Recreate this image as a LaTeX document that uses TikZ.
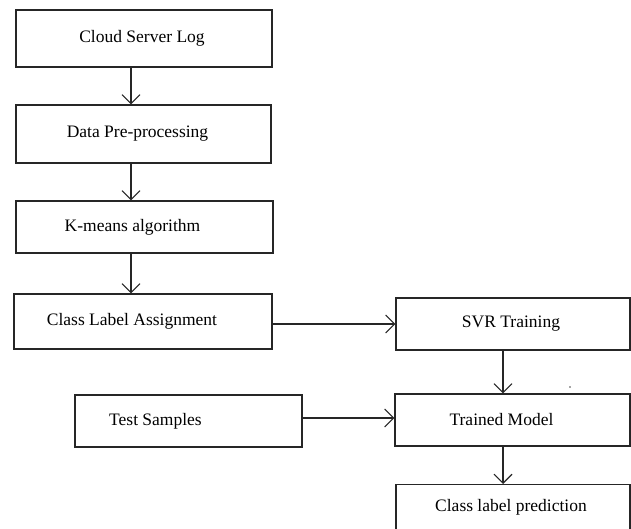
\documentclass[tikz,border=0pt]{standalone}
\usepackage{fontspec}
\setmainfont{Liberation Serif}
\usetikzlibrary{arrows.meta}
\begin{document}
\begin{tikzpicture}[x=1pt,y=-1pt,
  box/.style={draw=black!85, line width=1.1pt, rectangle, inner sep=0pt},
  txt/.style={font=\fontsize{17.5}{20}\selectfont, text=black},
  conn/.style={draw=black!85, line width=1.1pt, -{Straight Barb[length=9pt,width=18pt]}}]
\clip (0,0) rectangle (631,529);
\fill[white] (0,0) rectangle (631,529);
\node[box, minimum width=256pt, minimum height=57pt, label={[txt,xshift=-2pt]center:Cloud Server Log}] (b1) at (144,38.5) {};
\node[box, minimum width=255pt, minimum height=58pt, label={[txt,xshift=-6pt]center:Data Pre-processing}] (b2) at (143.5,134) {};
\node[box, minimum width=257pt, minimum height=52pt, label={[txt,xshift=-12pt]center:K-means algorithm}] (b3) at (144.5,227) {};
\node[box, minimum width=258pt, minimum height=55pt, label={[txt,xshift=-11pt]center:Class Label Assignment}] (b4) at (143,321.5) {};
\node[box, minimum width=234pt, minimum height=52pt, label={[txt,xshift=-2pt]center:SVR Training}] (b5) at (513,324) {};
\node[box, minimum width=227pt, minimum height=52pt, label={[txt,xshift=-33pt]center:Test Samples}] (b6) at (188.5,421) {};
\node[box, minimum width=235pt, minimum height=52pt, label={[txt,xshift=-11pt]center:Trained Model}] (b7) at (512.5,420) {};
\node[box, minimum width=234pt, minimum height=70pt, anchor=north, label={[txt,xshift=-2pt,yshift=12pt]center:Class label prediction}] (b8) at (513,484) {};
\draw[conn] ([xshift=-13pt]b1.south) -- ([xshift=-13pt]b1.south |- b2.north);
\draw[conn] ([xshift=-12.5pt]b2.south) -- ([xshift=-12.5pt]b2.south |- b3.north);
\draw[conn] ([xshift=-13.5pt]b3.south) -- ([xshift=-13.5pt]b3.south |- b4.north);
\draw[conn] (b5.west -| b4.east) -- (b5.west);
\draw[conn] ([yshift=2pt]b7.west -| b6.east) -- ([yshift=2pt]b7.west);
\draw[conn] ([xshift=-10pt]b5.south) -- ([xshift=-10pt]b5.south |- b7.north);
\draw[conn] ([xshift=-9.5pt]b7.south) -- ([xshift=-9.5pt]b7.south |- b8.north);
\fill[black!70] (570,387) circle (0.8pt);
\end{tikzpicture}
\end{document}
